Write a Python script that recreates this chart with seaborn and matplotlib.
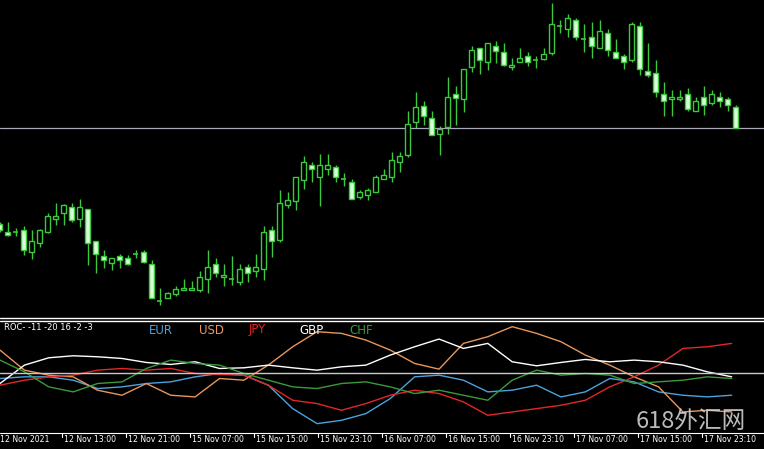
import matplotlib
matplotlib.use("Agg")
import matplotlib.pyplot as plt
import seaborn as sns
import pandas as pd
import numpy as np
from matplotlib.lines import Line2D

# Candle data (price units, arbitrary scale)
y_open  = [224,232,232,230,252,243,232,219,213,207,219,209,241,256,263,256,258,254,252,264,301,298,294,290,290,290,279,264,277,279,282,267,271,269,230,240,205,201,180,165,177,169,167,179,182,197,195,192,
           179,177,162,155,122,106,118,134,127,94,99,67,48,62,46,52,67,62,56,60,59,53,26,29,20,39,37,48,33,52,56,60,26,71,73,94,99,99,94,111,97,103,97,99,107]
y_close = [230,235,232.5,250,241,230,216,216,205,220,207,243,254,260,258,260,264,254.5,262,298,301.5,293,289,288,288,277,267,273,275,279.5,269,273,267,232,241,203,200,177,162,169,165,165,177,179.5,199,192,190,177,
           175,160,156,124,107,116,135,129,97,98,69,50,60,43,51,65,65,58,62,60.5,54,24,26.5,18,37,39.5,46,31,50,58,62,24,69,75,92,101,97,97,109,101,105,94,101,105,128]
y_high  = [222,222,228,226,230,229,213,203,204,203,199,209,241,250,258,254,255,250,250,260,288,292,286,279,281,271,250,258,264,256,264,264,254,226,226,190,192,177,156,162,154,154,165,173,179,190,188,175,
           169,152,152,111,92,101,111,126,77,86,69,46,48,43,41,43,58,48,52,56,48,3,20,14,18,24,22,20,29,39,54,22,22,43,60,82,90,90,88,97,86,90,92,97,105]
y_low   = [232,236,236,255,259,247,233,225,225,222,227,265,273,268,270,268,265,258,263,298,305,298,296,290,290,292,293,277,286,285,285,282,277,280,257,242,208,210,189,182,206,175,182,186,199,199,200,192,
           179,182,172,157,128,125,135,155,134,125,112,72,74,70,63,66,70,62,66,68,60,55,33,37,40,52,58,48,56,58,69,62,75,77,97,116,116,101,111,111,115,105,107,111,128]
level_y = 128

# ROC indicator (sampled every ~24 px)
roc_x = list(range(0, 1501, 50))
eur = [-1.7,-1.2,-1.2,-2.2,-4.7,-4.2,-3.2,-2.7,-1.2,-0.2,-0.7,-3.7,-10.7,-15.2,-14.2,-12.2,-7.7,-1.2,-0.7,-2.2,-5.7,-5.2,-3.7,-7.2,-5.7,-1.7,-2.7,-5.7,-6.7,-7.2,-6.7]
usd = [6.8,0.8,-0.7,-1.2,-5.2,-6.7,-3.2,-6.7,-7.2,-1.7,-2.2,2.3,7.8,12.3,11.8,9.8,6.8,2.8,1.1,8.8,10.8,13.8,11.8,9.3,5.3,2.3,-1.2,-4.2,-11.7,-11.2,-11.7]
jpy = [-3.7,-2.2,-1.2,-0.7,0.8,1.3,0.8,1.3,-0.2,-0.5,-0.7,-3.7,-8.2,-9.2,-11.2,-9.2,-6.7,-5.2,-6.2,-8.7,-12.7,-11.7,-10.7,-9.7,-8.2,-4.2,-1.2,2.3,7.3,7.8,8.8]
gbp = [-3.2,2.3,4.5,5.1,4.8,4.3,3.1,2.5,3.3,1.3,1.5,2.3,1.5,0.8,1.8,2.3,5.3,7.8,10.1,7.3,8.8,3.3,2.1,3.1,4.0,3.3,3.8,3.3,2.3,0.3,-1.2]
chf = [3.8,0.3,-4.2,-5.7,-3.2,-2.7,1.3,3.8,2.8,2.3,-0.2,-2.2,-4.2,-4.7,-3.2,-2.7,-4.2,-6.2,-5.2,-6.7,-8.2,-2.2,0.8,-0.7,-0.2,-0.7,-3.2,-2.7,-2.2,-1.2,-1.7]
currencies = ["EUR", "USD", "JPY", "GBP", "CHF"]
colors = ["#4aa3df", "#e8965a", "#e32626", "#ffffff", "#3a9a3a"]

time_labels = ["12 Nov 2021", "12 Nov 13:00", "12 Nov 21:00", "15 Nov 07:00", "15 Nov 15:00", "15 Nov 23:10",
               "16 Nov 07:00", "16 Nov 15:00", "16 Nov 23:10", "17 Nov 07:00", "17 Nov 15:00", "17 Nov 23:10"]

sns.set_style("dark", {"axes.facecolor": "black", "figure.facecolor": "black"})
W, H = 764, 449
fig = plt.figure(figsize=(W/100, H/100), dpi=100)
fig.patch.set_facecolor("black")

# main chart
ax1 = fig.add_axes([0, 1-316/H, 1, 316/H])
ax1.set_facecolor("black")
n = len(y_open)
green = "#3cc83c"
fill = "#d8ffd8"
for i in range(n):
    o, c, h, l = [320 - v for v in (y_open[i], y_close[i], y_high[i], y_low[i])]
    ax1.vlines(i, l, h, color=green, lw=1)
    lo, hi = min(o, c), max(o, c)
    if hi - lo < 1.2:
        ax1.hlines((o + c) / 2, i - 0.32, i + 0.32, color=green, lw=1.2)
    else:
        fc = "black" if c > o else fill
        ax1.bar(i, hi - lo, bottom=lo, width=0.6, facecolor=fc, edgecolor=green, lw=1, zorder=3)
ax1.axhline(320 - level_y, color="#a8a8b8", lw=0.9)
ax1.set_xlim(0.0375, 95.54)
ax1.set_ylim(4, 320)
ax1.axis("off")

# separator lines
for yy in (317.5, 320.5):
    fig.add_artist(Line2D([0, 1], [1-yy/H, 1-yy/H], color="white", lw=1))

# indicator
ax2 = fig.add_axes([0, 1-432/H, 1, 111/H])
ax2.set_facecolor("black")
df = pd.DataFrame({"x": [v/2.05 for v in roc_x] * 5,
                   "roc": eur + usd + jpy + gbp + chf,
                   "cur": sum([[c]*len(roc_x) for c in currencies], [])})
sns.lineplot(data=df, x="x", y="roc", hue="cur", palette=dict(zip(currencies, colors)),
             ax=ax2, lw=1, legend=False)
ax2.axhline(0, color="#c8c8c8", lw=1)
ax2.set_xlim(0, W)
ax2.set_ylim(-17.7, 15.5)
ax2.axis("off")

fig.text(4/W, 1-328/H, "ROC- -11 -20 16 -2 -3", color="white", fontsize=6, va="center")
for j, (c, col) in enumerate(zip(currencies, colors)):
    fig.text((149 + 50*j)/W, 1-330/H, c, color=col, fontsize=8.5, va="center")

# time axis
fig.add_artist(Line2D([0, 1], [1-433/H, 1-433/H], color="white", lw=0.8))
for k, lab in enumerate(time_labels):
    px = 8*8*k - 2
    if k > 0:
        fig.add_artist(Line2D([px/W, px/W], [1-433/H, 1-437/H], color="white", lw=0.8))
    fig.text((px + 2)/W if k > 0 else 0, 1-440/H, lab, color="white", fontsize=5.6, va="center")

fig.text(636/W, 1-421/H, "618外汇网", color="#d0d0d0", fontsize=17, va="center",
         family=["Noto Sans CJK SC", "DejaVu Sans"], alpha=0.9)

fig.savefig("out.png", dpi=100, facecolor="black")
